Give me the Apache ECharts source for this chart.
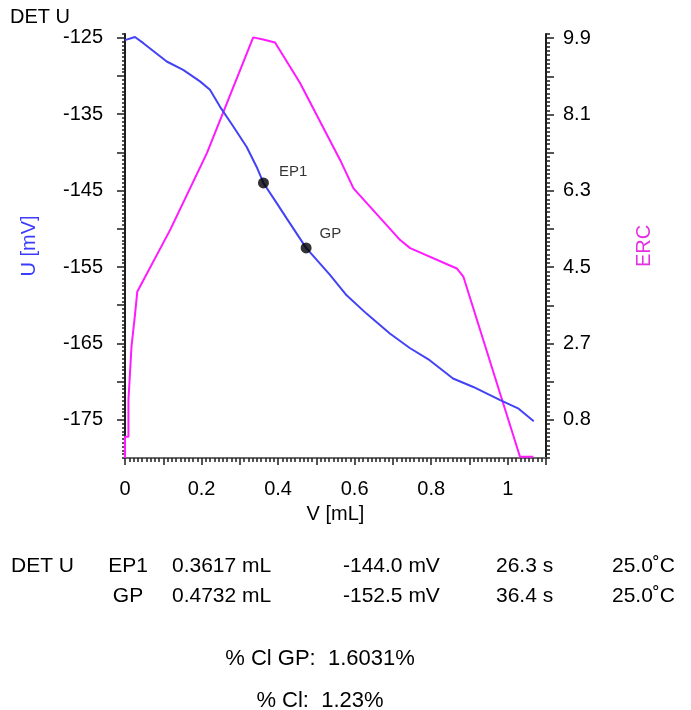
<!DOCTYPE html>
<html>
<head>
<meta charset="utf-8">
<script src="https://cdn.jsdelivr.net/npm/echarts@6/dist/echarts.min.js"></script>
<style>
  html, body { margin: 0; padding: 0; background: #ffffff; }
  #chart { width: 691px; height: 710px; }
</style>
</head>
<body>
<div id="chart"></div>
<script>
// Titration curve: electrode potential U and ERC against added volume V
const volume = [0.000, 0.026, 0.048, 0.109, 0.152, 0.196, 0.222, 0.248, 0.283, 0.318, 0.344, 0.3617,
  0.396, 0.422, 0.4732, 0.535, 0.579, 0.631, 0.692, 0.744, 0.796, 0.857, 0.910, 0.979, 1.027, 1.068];
const potential = [-125.3, -124.9, -125.7, -128.1, -129.2, -130.7, -131.8, -134.0, -136.6, -139.3, -141.9, -144.0,
  -146.6, -148.6, -152.5, -156.0, -158.7, -161.1, -163.7, -165.6, -167.2, -169.6, -170.7, -172.4, -173.5, -175.2];

const ercVolume = [0, 0, 0.009, 0.009, 0.013, 0.017, 0.026, 0.032, 0.118, 0.214, 0.335, 0.361, 0.392,
  0.457, 0.562, 0.597, 0.719, 0.745, 0.867, 0.884, 1.032, 1.067];
const ercValue = [0, 0.5, 0.5, 1.37, 2.0, 2.63, 3.37, 3.92, 5.38, 7.19, 9.92, 9.87, 9.80,
  8.85, 7.03, 6.36, 5.14, 4.95, 4.47, 4.28, 0.03, 0.03];

const endpointNames = ['EP1', 'GP'];
const endpointVolume = [0.3617, 0.4732];
const endpointPotential = [-144.0, -152.5];

const xTickValues = [0, 0.2, 0.4, 0.6, 0.8, 1.0];
const xTickLabels = ['0', '0.2', '0.4', '0.6', '0.8', '1'];
const uTickValues = [-175, -165, -155, -145, -135, -125];
const uMajorTicks = [-175, -170, -165, -160, -155, -150, -145, -140, -135, -130, -125];
const ercTickValues = [0.9, 2.7, 4.5, 6.3, 8.1, 9.9];
const ercTickLabels = ['0.8', '2.7', '4.5', '6.3', '8.1', '9.9'];
const ercMajorTicks = [0.9, 1.8, 2.7, 3.6, 4.5, 5.4, 6.3, 7.2, 8.1, 9.0, 9.9];

const tableRows = [
  ['DET U', 'EP1', '0.3617 mL', '-144.0 mV', '26.3 s', '25.0˚C'],
  ['', 'GP', '0.4732 mL', '-152.5 mV', '36.4 s', '25.0˚C']
];
const summaryLines = ['% Cl GP:  1.6031%', '% Cl:  1.23%'];

const FONT = 'Liberation Sans, Arial, sans-serif';
const BLUE = '#4343f5';
const MAGENTA = '#ff1aff';
const AXIS = '#1e1e1e';

function labelFrom(values, labels) {
  return function (v) {
    for (let i = 0; i < values.length; i++) {
      if (Math.abs(values[i] - v) < 1e-6) return labels[i];
    }
    return '';
  };
}

const chart = echarts.init(document.getElementById('chart'), null, { renderer: 'canvas' });

const uLine = volume.map((v, i) => [v, potential[i]]);
const ercLine = ercVolume.map((v, i) => [v, ercValue[i]]);
const endpoints = endpointNames.map((n, i) => ({
  name: n,
  value: [endpointVolume[i], endpointPotential[i]],
  label: i === 0 ? { distance: 10, offset: [0, -11] } : { distance: 8, offset: [0, -14] }
}));

const blankAxis = {
  axisLine: { show: false }, axisLabel: { show: false }, splitLine: { show: false }
};

chart.setOption({
  animation: false,
  backgroundColor: '#ffffff',
  grid: { left: 125, right: 145, top: 34, bottom: 252 },
  xAxis: [
    {
      type: 'value', position: 'bottom', min: 0, max: 1.1, interval: 0.1,
      name: 'V [mL]', nameLocation: 'middle', nameGap: 46,
      nameTextStyle: { fontFamily: FONT, fontSize: 20, color: '#000' },
      axisLine: { show: true, lineStyle: { color: AXIS, width: 2 } },
      axisTick: { show: true, length: 7, lineStyle: { color: AXIS, width: 1.5 } },
      minorTick: { show: true, splitNumber: 9, length: 4, lineStyle: { color: AXIS, width: 1.5 } },
      axisLabel: {
        customValues: xTickValues, margin: 21, fontFamily: FONT, fontSize: 20, color: '#000',
        formatter: labelFrom(xTickValues, xTickLabels)
      },
      splitLine: { show: false }, minorSplitLine: { show: false }
    },
    {
      type: 'value', position: 'top', min: 0, max: 1.1,
      axisLine: { show: true, lineStyle: { color: '#6a6a6a', width: 2 } },
      axisTick: { show: false }, axisLabel: { show: false }, splitLine: { show: false }
    }
  ],
  yAxis: [
    {
      type: 'value', position: 'left', min: -180, max: -124.5,
      name: 'U [mV]', nameLocation: 'middle', nameGap: 86,
      nameTextStyle: { fontFamily: FONT, fontSize: 20, color: '#3c3cff' },
      axisLine: { show: true, lineStyle: { color: AXIS, width: 2 } },
      axisTick: { show: true, customValues: uMajorTicks, length: 8, lineStyle: { color: AXIS, width: 1.5 } },
      axisLabel: { customValues: uTickValues, margin: 22, fontFamily: FONT, fontSize: 20, color: '#000' },
      splitLine: { show: false }
    },
    Object.assign({
      type: 'value', position: 'left', min: -180, max: -124.5, interval: 0.5,
      axisTick: { show: true, length: 3, lineStyle: { color: AXIS, width: 1.5 } }
    }, blankAxis),
    {
      type: 'value', position: 'right', min: 0, max: 10,
      name: 'ERC', nameLocation: 'middle', nameGap: 88,
      nameTextStyle: { fontFamily: FONT, fontSize: 20, color: '#e52fe5' },
      axisLine: { show: true, lineStyle: { color: AXIS, width: 2 } },
      axisTick: { show: true, customValues: ercMajorTicks, length: 8, lineStyle: { color: AXIS, width: 1.5 } },
      axisLabel: {
        customValues: ercTickValues, margin: 17, fontFamily: FONT, fontSize: 20, color: '#000',
        formatter: labelFrom(ercTickValues, ercTickLabels)
      },
      splitLine: { show: false }
    },
    Object.assign({
      type: 'value', position: 'right', min: 0, max: 10, interval: 0.1,
      axisTick: { show: true, length: 4, lineStyle: { color: AXIS, width: 1.5 } }
    }, blankAxis)
  ],
  series: [
    {
      name: 'ERC', type: 'line', xAxisIndex: 0, yAxisIndex: 2, data: ercLine,
      showSymbol: false, lineStyle: { color: MAGENTA, width: 2 }, z: 2
    },
    {
      name: 'U', type: 'line', xAxisIndex: 0, yAxisIndex: 0, data: uLine,
      showSymbol: false, lineStyle: { color: BLUE, width: 2 }, z: 3
    },
    {
      name: 'Endpoints', type: 'scatter', xAxisIndex: 0, yAxisIndex: 0, data: endpoints,
      symbolSize: 11, itemStyle: { color: '#000' }, z: 4,
      label: {
        show: true, position: 'right', formatter: '{b}',
        fontFamily: FONT, fontSize: 15, color: '#000'
      }
    }
  ],
  graphic: (function () {
    const items = [{
      type: 'text', x: 10, y: 17,
      style: { text: 'DET U', font: '20px ' + FONT, fill: '#000', textVerticalAlign: 'middle' }
    }];
    const colX = [11, 128, 172, 343, 496, 612];
    const colAlign = ['left', 'center', 'left', 'left', 'left', 'left'];
    const rowY = [566, 596];
    tableRows.forEach((row, r) => {
      row.forEach((cell, c) => {
        if (!cell) return;
        items.push({
          type: 'text', x: colX[c], y: rowY[r],
          style: { text: cell, font: '21px ' + FONT, fill: '#000', textAlign: colAlign[c], textVerticalAlign: 'middle' }
        });
      });
    });
    const sumY = [659, 701];
    summaryLines.forEach((t, i) => {
      items.push({
        type: 'text', x: 320, y: sumY[i],
        style: { text: t, font: '22px ' + FONT, fill: '#000', textAlign: 'center', textVerticalAlign: 'middle' }
      });
    });
    return items;
  })()
});
</script>
</body>
</html>
